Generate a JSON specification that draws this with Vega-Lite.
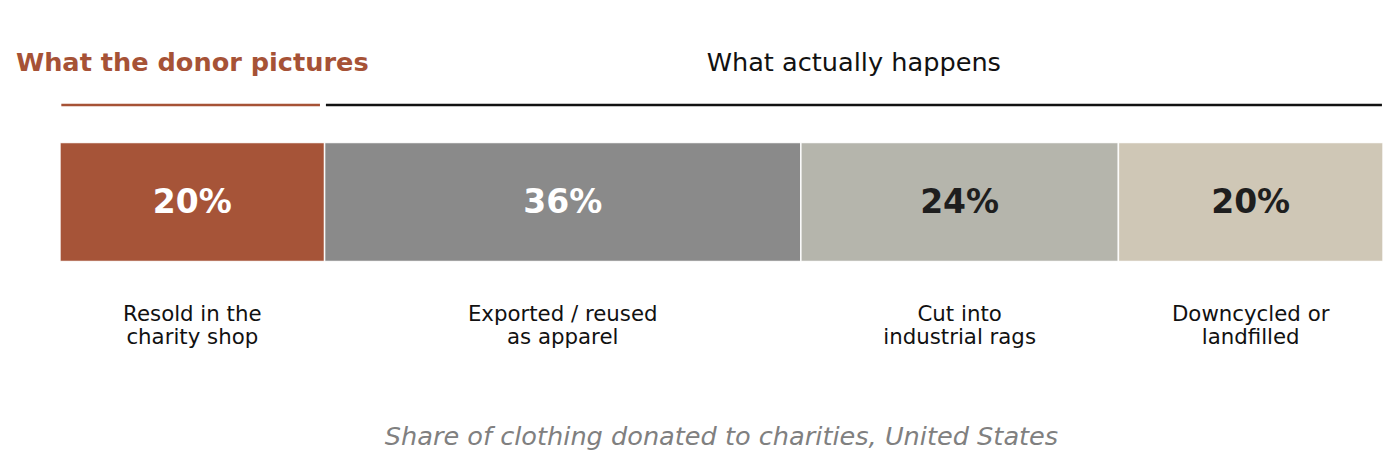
{
  "$schema": "https://vega.github.io/schema/vega-lite/v6.json",
  "width": 1400,
  "height": 464,
  "autosize": {"type": "fit", "contains": "padding"},
  "padding": 0,
  "background": "white",
  "config": {
    "view": {"stroke": null},
    "font": "DejaVu Sans",
    "text": {"font": "DejaVu Sans"}
  },
  "datasets": {
    "segments": [
      {"category": "Resold in the charity shop", "pct": 20, "start": 0, "end": 20, "line1": "Resold in the", "line2": "charity shop"},
      {"category": "Exported / reused as apparel", "pct": 36, "start": 20, "end": 56, "line1": "Exported / reused", "line2": "as apparel"},
      {"category": "Cut into industrial rags", "pct": 24, "start": 56, "end": 80, "line1": "Cut into", "line2": "industrial rags"},
      {"category": "Downcycled or landfilled", "pct": 20, "start": 80, "end": 100, "line1": "Downcycled or", "line2": "landfilled"}
    ],
    "groups": [
      {"group": "What the donor pictures", "start": 0.1, "end": 19.65, "mid": 10, "kind": "donor"},
      {"group": "What actually happens", "start": 20.1, "end": 99.92, "mid": 60, "kind": "actual"}
    ]
  },
  "layer": [
    {
      "data": {"name": "groups"},
      "mark": {"type": "rule", "strokeWidth": 2.5},
      "encoding": {
        "x": {"field": "start", "type": "quantitative", "scale": {"domain": [-4.535, 101.285], "nice": false, "zero": false}, "axis": null},
        "x2": {"field": "end"},
        "y": {"datum": 105, "type": "quantitative", "scale": {"domain": [0, 464], "reverse": true, "nice": false, "zero": false}, "axis": null},
        "color": {"field": "kind", "type": "nominal", "scale": {"domain": ["donor", "actual"], "range": ["#A65236", "#111111"]}, "legend": null}
      }
    },
    {
      "data": {"name": "groups"},
      "transform": [{"filter": "datum.kind === 'donor'"}],
      "mark": {"type": "text", "fontSize": 25.6, "fontWeight": "bold", "baseline": "middle", "align": "center", "color": "#A65236"},
      "encoding": {
        "x": {"field": "mid", "type": "quantitative"},
        "y": {"datum": 62.5, "type": "quantitative"},
        "text": {"field": "group"}
      }
    },
    {
      "data": {"name": "groups"},
      "transform": [{"filter": "datum.kind === 'actual'"}],
      "mark": {"type": "text", "fontSize": 25.6, "baseline": "middle", "align": "center", "color": "#111111"},
      "encoding": {
        "x": {"field": "mid", "type": "quantitative"},
        "y": {"datum": 62.5, "type": "quantitative"},
        "text": {"field": "group"}
      }
    },
    {
      "data": {"name": "segments"},
      "mark": {"type": "bar", "stroke": "white", "strokeWidth": 1.5, "strokeOpacity": 0.9},
      "encoding": {
        "x": {"field": "start", "type": "quantitative"},
        "x2": {"field": "end"},
        "y": {"datum": 142.5, "type": "quantitative"},
        "y2": {"datum": 261.5},
        "fill": {"field": "category", "type": "nominal", "sort": null,
          "scale": {"domain": ["Resold in the charity shop", "Exported / reused as apparel", "Cut into industrial rags", "Downcycled or landfilled"],
                    "range": ["#A65438", "#8A8A8A", "#B5B5AC", "#CFC7B6"]}, "legend": null}
      }
    },
    {
      "data": {"name": "segments"},
      "transform": [
        {"calculate": "(datum.start + datum.end) / 2", "as": "mid"},
        {"calculate": "datum.pct + '%'", "as": "pctLabel"}
      ],
      "mark": {"type": "text", "fontSize": 33, "fontWeight": "bold", "baseline": "middle", "align": "center"},
      "encoding": {
        "x": {"field": "mid", "type": "quantitative"},
        "y": {"datum": 202.5, "type": "quantitative"},
        "text": {"field": "pctLabel"},
        "color": {"condition": {"test": "datum.start < 50", "value": "white"}, "value": "#1E1E1E"}
      }
    },
    {
      "data": {"name": "segments"},
      "transform": [
        {"calculate": "(datum.start + datum.end) / 2", "as": "mid"},
        {"calculate": "[datum.line1, datum.line2]", "as": "lines"}
      ],
      "mark": {"type": "text", "fontSize": 21.3, "lineHeight": 23, "baseline": "middle", "align": "center", "color": "#111111"},
      "encoding": {
        "x": {"field": "mid", "type": "quantitative"},
        "y": {"datum": 315, "type": "quantitative"},
        "text": {"field": "lines"}
      }
    },
    {
      "data": {"values": [{"caption": "Share of clothing donated to charities, United States", "mid": 50}]},
      "mark": {"type": "text", "fontSize": 25.6, "fontStyle": "italic", "baseline": "middle", "align": "center", "color": "#808080"},
      "encoding": {
        "x": {"field": "mid", "type": "quantitative"},
        "y": {"datum": 436.5, "type": "quantitative"},
        "text": {"field": "caption"}
      }
    }
  ]
}
